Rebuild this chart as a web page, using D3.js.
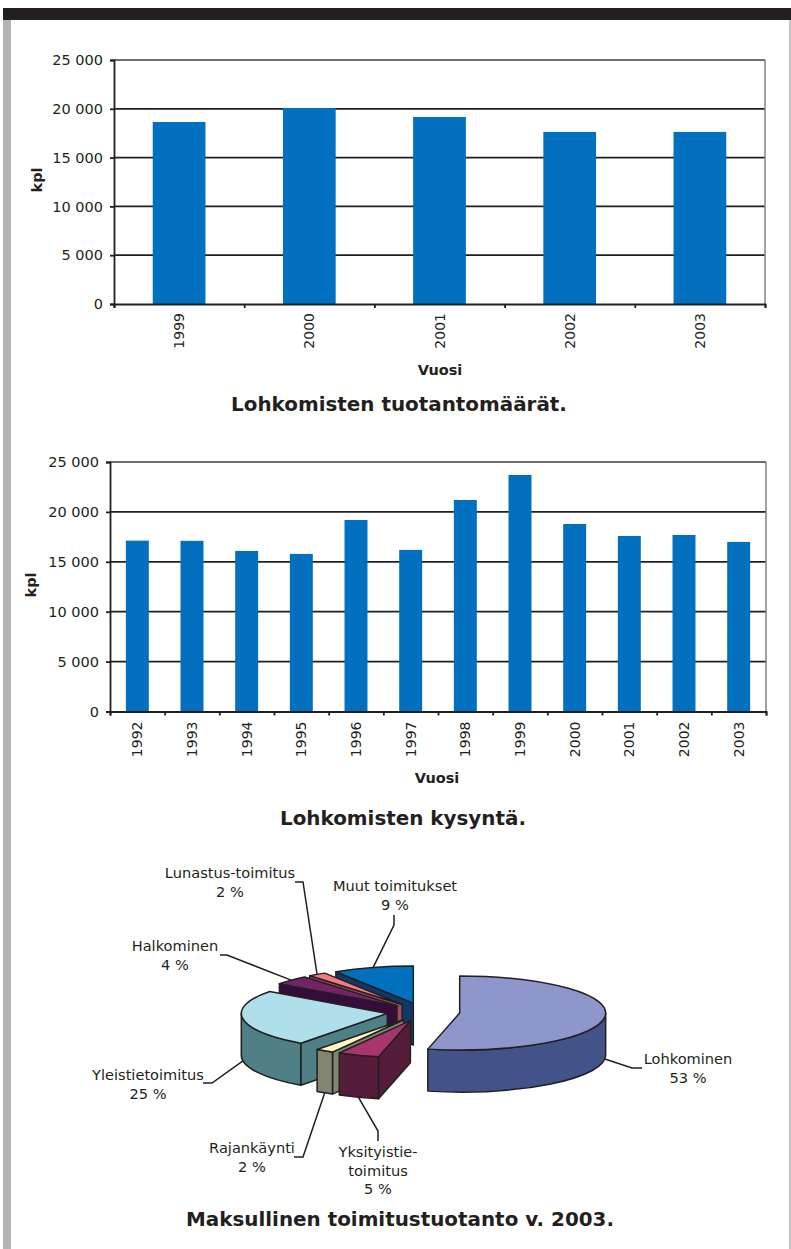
<!DOCTYPE html>
<html>
<head>
<meta charset="utf-8">
<script src="https://cdn.jsdelivr.net/npm/d3@7"></script>
<style>
  html, body { margin: 0; padding: 0; background: #fff; }
  svg { display: block; }
  text { font-family: "DejaVu Sans", Verdana, sans-serif; fill: #231f20; }
</style>
</head>
<body>
<svg id="page" width="791" height="1249"></svg>
<script>
// production per year
const prodYears = ['1999','2000','2001','2002','2003'];
const prodValues = [18650, 20080, 19160, 17630, 17630];
// demand per year
const demandYears = ['1992','1993','1994','1995','1996','1997','1998','1999','2000','2001','2002','2003'];
const demandValues = [17120, 17100, 16090, 15790, 19190, 16190, 21190, 23700, 18790, 17590, 17690, 16990];
const yTicks = [0, 5000, 10000, 15000, 20000, 25000];

// pie, clockwise from 12 o'clock. Drawn shares are a bit finer than the printed %
const pieNames = ['Lohkominen','Yksityistie','Rajankäynti','Yleistie','Halkominen','Lunastus','Muut'];
const pieShares = [53.5, 4.6, 2, 25, 4, 2, 8.9];
const pieLabels = [
  ['Lohkominen','53 %'],
  ['Yksityistie-','toimitus','5 %'],
  ['Rajankäynti','2 %'],
  ['Yleistietoimitus','25 %'],
  ['Halkominen','4 %'],
  ['Lunastus-toimitus','2 %'],
  ['Muut toimitukset','9 %']
];
const pieTop = ['#8e96cb','#a8356e','#fdf7c0','#aedfea','#732469','#f5797f','#0070bf'];
const pieSide = ['#44528a','#561d3a','#7f8570','#4f8086','#360c3a','#9c4e55','#103a66'];
// label anchor and leader bends, same order as pieNames
const labelPos = [[688,1064],[378,1157],[252,1153],[148,1080],[175,951],[230,878],[395,891]];
const leaderBends = [
  [[632,1068],[642,1068]],
  [[378,1131],[378,1141]],
  [[303,1157],[294,1157]],
  [[212,1083],[203,1083]],
  [[227,955],[220,955]],
  [[303,882],[295,882]],
  [[394,925],[394,915]]
];

const INK = '#231f20', BLUE = '#0070bf';
const svg = d3.select('#page');
const fmt = d3.formatLocale({decimal: ',', thousands: ' ', grouping: [3], currency: ['', '']}).format(',');

// page furniture
svg.append('rect').attr('x',3).attr('y',8).attr('width',788).attr('height',12).attr('fill',INK);
svg.append('rect').attr('x',3).attr('y',20).attr('width',8).attr('height',1229).attr('fill','#b3b3b3');
svg.append('rect').attr('x',789).attr('y',20).attr('width',2).attr('height',1229).attr('fill','#c4c4c4');

function barChart(cfg) {
  const {cats, vals, x0, x1, yTop, yBot} = cfg;
  const g = svg.append('g');
  const x = d3.scaleBand().domain(cats).range([x0, x1]).paddingInner(cfg.pad).paddingOuter(cfg.pad / 2);
  const edge = d3.scaleLinear().domain([0, cats.length]).range([x0, x1]);
  const y = d3.scaleLinear().domain([0, 25000]).range([yBot, yTop]);

  // gridlines
  g.selectAll('line.grid').data(yTicks.slice(1)).enter().append('line')
    .attr('x1', x0).attr('x2', x1).attr('y1', y).attr('y2', y)
    .attr('stroke', d => d === 25000 ? '#6d6e71' : INK).attr('stroke-width', 1.8);
  g.append('line').attr('x1', x1).attr('x2', x1).attr('y1', yTop).attr('y2', yBot)
    .attr('stroke', '#808285').attr('stroke-width', 1.5);

  g.selectAll('rect').data(vals).enter().append('rect')
    .attr('x', (d,i) => x(cats[i])).attr('width', x.bandwidth())
    .attr('y', d => y(d)).attr('height', d => yBot - y(d)).attr('fill', BLUE);

  const ya = g.append('g').attr('transform', `translate(${x0},0)`)
    .call(d3.axisLeft(y).tickValues(yTicks).tickFormat(fmt).tickSize(4).tickPadding(7));
  ya.selectAll('text').style('font-size', '14.5px').attr('fill', INK);

  g.append('g').attr('transform', `translate(0,${yBot})`)
    .call(d3.axisBottom(edge).tickValues(d3.range(cats.length + 1)).tickFormat('').tickSize(4));
  g.selectAll('.domain, .tick line').attr('stroke', INK).attr('stroke-width', 1.8);

  const xl = g.append('g').attr('transform', `translate(0,${yBot})`)
    .call(d3.axisBottom(x).tickSize(0).tickPadding(0));
  xl.select('.domain').remove();
  xl.selectAll('text')
    .attr('transform', 'rotate(-90)')
    .attr('text-anchor', 'end')
    .attr('x', -cfg.labelGap).attr('y', 0).attr('dy', '0.36em')
    .style('font-size', '14px');

  g.append('text').attr('x', cfg.xTitle[0]).attr('y', cfg.xTitle[1]).attr('text-anchor','middle')
    .style('font-size','14.5px').style('font-weight','bold').text('Vuosi');
  g.append('text').attr('transform', `translate(${cfg.yTitle[0]},${cfg.yTitle[1]}) rotate(-90)`)
    .attr('text-anchor','middle').style('font-size','14.5px').style('font-weight','bold').text('kpl');
  g.append('text').attr('x', cfg.title[0]).attr('y', cfg.title[1]).attr('text-anchor','middle')
    .style('font-size','19.9px').style('font-weight','bold').text(cfg.titleText);
}

barChart({cats: prodYears, vals: prodValues, x0: 114, x1: 765, yTop: 60, yBot: 304, pad: 0.595,
  labelGap: 9, xTitle: [440,375], yTitle: [42,180], title: [399,411], titleText: 'Lohkomisten tuotantomäärät.'});
barChart({cats: demandYears, vals: demandValues, x0: 110, x1: 766, yTop: 462, yBot: 711.5, pad: 0.58,
  labelGap: 10, xTitle: [437,783], yTitle: [36,585], title: [403,825], titleText: 'Lohkomisten kysyntä.'});

// 3D exploded pie
const cx = 423.4, cy = 1012, rx = 146, ry = 37, depth = 42, explode = 0.25;
const arcs = d3.pie().sort(null).value(d => d)(pieShares);
const apex = a => {
  const m = (a.startAngle + a.endAngle) / 2;
  return [cx + explode * rx * Math.sin(m), cy - explode * ry * Math.cos(m)];
};
const onRim = (a, t) => {
  const c = apex(a);
  return [c[0] + rx * Math.sin(t), c[1] - ry * Math.cos(t)];
};
const down = p => [p[0], p[1] + depth];

function topPath(a) {
  const c = apex(a), s = onRim(a, a.startAngle), e = onRim(a, a.endAngle);
  const big = a.endAngle - a.startAngle > Math.PI ? 1 : 0;
  return `M${c}L${s}A${rx},${ry} 0 ${big} 1 ${e}Z`;
}
function wallPath(a) {
  const from = Math.max(a.startAngle, Math.PI / 2), to = Math.min(a.endAngle, 1.5 * Math.PI);
  if (to <= from) return null;
  const s = onRim(a, from), e = onRim(a, to);
  return `M${s}A${rx},${ry} 0 0 1 ${e}L${down(e)}A${rx},${ry} 0 0 0 ${down(s)}Z`;
}
function facePath(a) {
  if (Math.sin(a.startAngle) >= 0) return null;
  const c = apex(a), s = onRim(a, a.startAngle);
  return `M${c}L${s}L${down(s)}L${down(c)}Z`;
}

const pieG = svg.append('g').attr('stroke', INK).attr('stroke-width', 1.5).attr('stroke-linejoin', 'round');
// back to front
const drawOrder = [6, 5, 4, 3, 2, 1, 0];
drawOrder.forEach(i => {
  const a = arcs[i];
  [facePath(a), wallPath(a)].forEach(d => {
    if (d) pieG.append('path').attr('d', d).attr('fill', pieSide[i]);
  });
  pieG.append('path').attr('d', topPath(a)).attr('fill', pieTop[i]);
});

// leaders start on the rim at the slice's mid angle
arcs.forEach((a, i) => {
  const m = (a.startAngle + a.endAngle) / 2;
  const r = onRim(a, m);
  const start = Math.cos(m) < 0 ? down(r) : r;
  svg.append('path').attr('d', d3.line()([start, ...leaderBends[i]]))
    .attr('fill', 'none').attr('stroke', INK).attr('stroke-width', 1.5);
  const t = svg.append('text').attr('text-anchor', 'middle').style('font-size', '14.6px');
  pieLabels[i].forEach((s, k) => {
    t.append('tspan').attr('x', labelPos[i][0]).attr('y', labelPos[i][1] + k * 18.5).text(s);
  });
});

svg.append('text').attr('x', 400).attr('y', 1226).attr('text-anchor', 'middle')
  .style('font-size', '19.9px').style('font-weight', 'bold').text('Maksullinen toimitustuotanto v. 2003.');
</script>
</body>
</html>
